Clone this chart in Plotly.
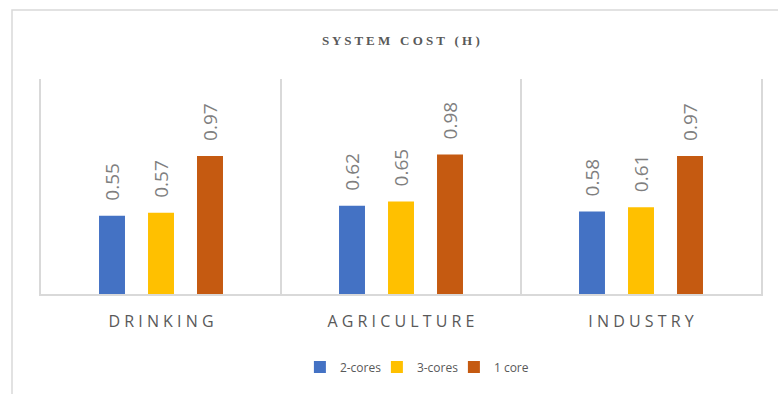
import plotly.graph_objects as go

categories = ["DRINKING", "AGRICULTURE", "INDUSTRY"]
tick_labels = ["D R I N K I N G", "A G R I C U L T U R E", "I N D U S T R Y"]
series_names = ["2-cores", "3-cores", "1 core"]
two_cores = [0.55, 0.62, 0.58]
three_cores = [0.57, 0.65, 0.61]
one_core = [0.97, 0.98, 0.97]
colors = ["#4472C4", "#FFC000", "#C55A11"]

series_values = [two_cores, three_cores, one_core]

W, H = 778, 394
L, R, T, B = 41, 17, 79, 100
plot_w = W - L - R
plot_h = H - T - B
bargap = 0.3875
slot = plot_w / len(categories) * (1 - bargap) / len(series_names)

fig = go.Figure()
for name, vals, col in zip(series_names, series_values, colors):
    fig.add_trace(go.Bar(x=categories, y=vals, name=name, marker_color=col,
                         marker_line_width=0))

annotations = []
for i, vals in enumerate(series_values):
    for c, v in zip(categories, vals):
        annotations.append(dict(
            x=c, y=v, xref="x", yref="y", text=f"{v:.2f}", showarrow=False,
            textangle=-90, xanchor="center", yanchor="bottom",
            xshift=(i - 1) * slot, yshift=13,
            font=dict(family="Open Sans", size=19, color="#7f7f7f")))

annotations.append(dict(
    x=0.5, y=(H - B - 40) / plot_h, xref="paper", yref="paper",
    text="<b>S Y S T E M   C O S T   ( H )</b>", showarrow=False,
    xanchor="center", yanchor="middle",
    font=dict(family="Liberation Serif", size=13, color="#595959")))

fig.update_layout(
    width=W, height=H,
    margin=dict(l=L, r=R, t=T, b=B),
    paper_bgcolor="white", plot_bgcolor="white",
    barmode="group", bargap=bargap, bargroupgap=0.47,
    showlegend=True,
    legend=dict(orientation="h", x=0.52, xanchor="center",
                y=-(367 - (H - B)) / plot_h, yanchor="middle",
                font=dict(family="Open Sans", size=12, color="#595959"),
                itemwidth=30, tracegroupgap=0, entrywidth=32,
                entrywidthmode="pixels"),
    annotations=annotations,
    shapes=[dict(type="rect", xref="paper", yref="paper",
                 x0=(12 - L) / plot_w, x1=(820 - L) / plot_w,
                 y0=-(430 - (H - B)) / plot_h, y1=((H - B) - 10) / plot_h,
                 line=dict(color="#d9d9d9", width=1.5), fillcolor="rgba(0,0,0,0)",
                 layer="below")],
)

fig.update_xaxes(
    type="category", tickson="boundaries", showgrid=True, gridcolor="#d9d9d9",
    gridwidth=1.5, ticks="", showline=True, linecolor="#d9d9d9", linewidth=1.5,
    tickvals=categories, ticktext=tick_labels, ticklabelstandoff=12,
    tickfont=dict(family="Open Sans", size=16, color="#595959"),
)
fig.update_yaxes(
    range=[0, 1.51], showgrid=False, zeroline=False, showticklabels=False,
    ticks="", showline=True, mirror=True, linecolor="#d9d9d9", linewidth=1.5,
)

fig.write_html("out.html")
